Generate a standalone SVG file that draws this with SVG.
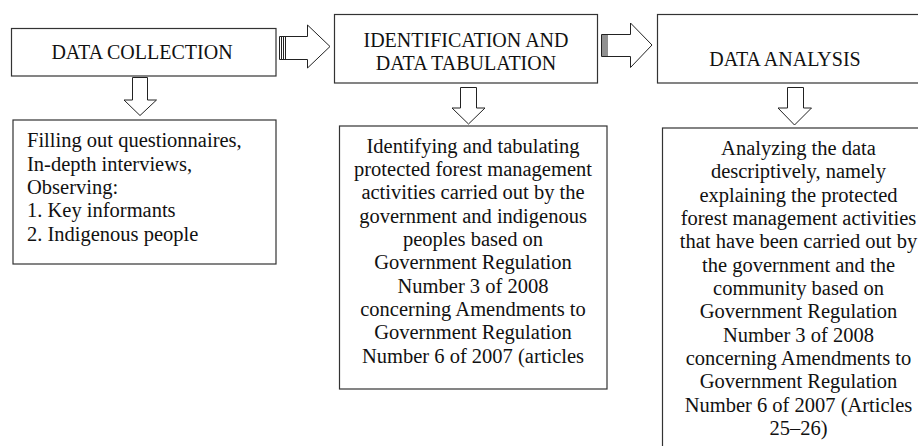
<svg xmlns="http://www.w3.org/2000/svg" width="918" height="446" viewBox="0 0 918 446">
<style>
.box{fill:#fff;stroke:#333;stroke-width:1.2}
.arr{fill:#fff;stroke:#222;stroke-width:1}
.t{font-family:"Liberation Serif","Times New Roman",serif;font-size:20.5px;fill:#111}
.h{font-size:20px}
.c{text-anchor:middle}
.stripe{stroke:#222;stroke-width:1}
</style>
<rect width="918" height="446" fill="#fff"/>
<g id="connectors">
  <path class="arr" d="M279.5,36.5 H307.5 V25 L330,46.5 L307.5,68 V59.5 H279.5 Z"/>
  <path class="stripe" d="M281.5,36.5 V59.5 M283.5,36.5 V59.5 M285.5,36.5 V59.5"/>
  <path class="arr" d="M601.5,34.5 H630.5 V23 L652,45 L630.5,67.5 V56.5 H601.5 Z"/>
  <path class="stripe" d="M603,34.5 V56.5 M605,34.5 V56.5 M607,34.5 V56.5"/>
  <path class="arr" d="M132.5,77.5 H147.5 V100 H156.5 L140,115.5 L124,100 H132.5 Z"/>
  <path class="arr" d="M460.5,87.5 H476.5 V108 H485 L468.5,124 L452,108 H460.5 Z"/>
  <path class="arr" d="M787.5,87.5 H803.5 V108 H811.5 L794.5,125 L778,108 H787.5 Z"/>
</g>
<g id="data-collection">
  <rect class="box" x="11.5" y="28.5" width="264.5" height="47.5"/>
  <text class="t h c" x="142" y="59">DATA COLLECTION</text>
</g>
<g id="identification">
  <rect class="box" x="334.5" y="14.5" width="263" height="68.5"/>
  <text class="t h c" x="466" y="46.5">IDENTIFICATION AND</text>
  <text class="t h c" x="466" y="70">DATA TABULATION</text>
</g>
<g id="data-analysis">
  <rect class="box" x="657.5" y="14.5" width="280" height="68.5"/>
  <text class="t h c" x="785" y="65.5">DATA ANALYSIS</text>
</g>
<g id="collection-detail">
  <rect class="box" x="13" y="120" width="263" height="144"/>
  <text class="t" x="27" y="147">Filling out questionnaires,</text>
  <text class="t" x="27" y="170.5">In-depth interviews,</text>
  <text class="t" x="27" y="194">Observing:</text>
  <text class="t" x="27" y="217">1. Key informants</text>
  <text class="t" x="27" y="240.5">2. Indigenous people</text>
</g>
<g id="identification-detail">
  <rect class="box" x="339.5" y="126" width="267.5" height="263"/>
  <text class="t c" x="473" y="152.5">Identifying and tabulating</text>
  <text class="t c" x="473" y="176">protected forest management</text>
  <text class="t c" x="473" y="199">activities carried out by the</text>
  <text class="t c" x="473" y="222.5">government and indigenous</text>
  <text class="t c" x="473" y="246">peoples based on</text>
  <text class="t c" x="473" y="269">Government Regulation</text>
  <text class="t c" x="473" y="292.5">Number 3 of 2008</text>
  <text class="t c" x="473" y="316">concerning Amendments to</text>
  <text class="t c" x="473" y="339">Government Regulation</text>
  <text class="t c" x="473" y="362.5">Number 6 of 2007 (articles</text>
</g>
<g id="analysis-detail">
  <rect class="box" x="662.5" y="128" width="280" height="330"/>
  <text class="t c" x="798.5" y="155">Analyzing the data</text>
  <text class="t c" x="798.5" y="178.3">descriptively, namely</text>
  <text class="t c" x="798.5" y="201.7">explaining the protected</text>
  <text class="t c" x="798.5" y="225">forest management activities</text>
  <text class="t c" x="798.5" y="248.3">that have been carried out by</text>
  <text class="t c" x="798.5" y="271.7">the government and the</text>
  <text class="t c" x="798.5" y="295">community based on</text>
  <text class="t c" x="798.5" y="318.3">Government Regulation</text>
  <text class="t c" x="798.5" y="341.7">Number 3 of 2008</text>
  <text class="t c" x="798.5" y="365">concerning Amendments to</text>
  <text class="t c" x="798.5" y="388.3">Government Regulation</text>
  <text class="t c" x="798.5" y="411.7">Number 6 of 2007 (Articles</text>
  <text class="t c" x="798.5" y="435">25–26)</text>
</g>
</svg>
